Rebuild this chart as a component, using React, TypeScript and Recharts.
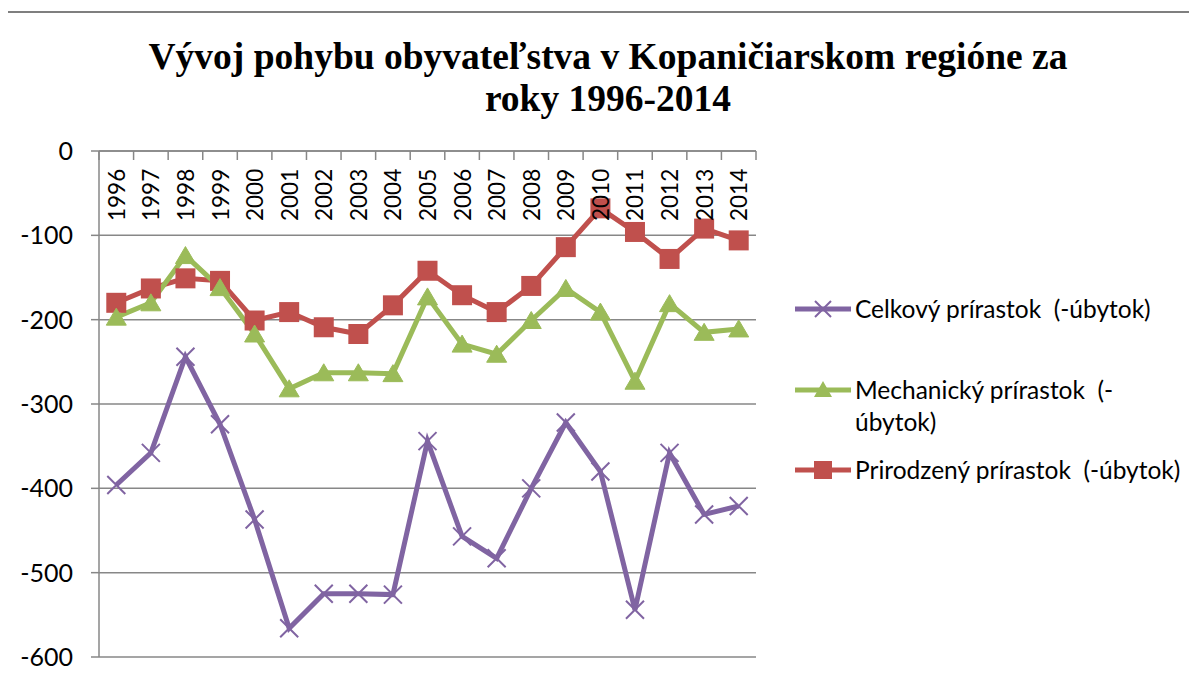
import React from 'react';
import { LineChart, Line, XAxis, YAxis, CartesianGrid, Legend } from 'recharts';

const years = [
  '1996', '1997', '1998', '1999', '2000', '2001', '2002', '2003', '2004', '2005',
  '2006', '2007', '2008', '2009', '2010', '2011', '2012', '2013', '2014',
];
const celkovy = [-396, -358, -244, -324, -437, -566, -525, -525, -526, -344, -457, -483, -400, -322, -380, -544, -358, -431, -421];
const mechanicky = [-197, -180, -124, -162, -217, -282, -263, -263, -264, -173, -229, -241, -201, -163, -191, -273, -181, -215, -211];
const prirodzeny = [-180, -163, -151, -154, -201, -191, -209, -217, -183, -142, -171, -191, -160, -114, -68, -96, -128, -92, -106];
const yTicks = [0, -100, -200, -300, -400, -500, -600];

const nameCelkovy = 'Celkový prírastok  (-úbytok)';
const nameMechanicky = 'Mechanický prírastok  (-úbytok)';
const namePrirodzeny = 'Prirodzený prírastok  (-úbytok)';

const data = years.map((year, i) => ({
  year,
  celkovy: celkovy[i],
  mechanicky: mechanicky[i],
  prirodzeny: prirodzeny[i],
}));

const PURPLE = '#8064A2';
const GREEN = '#9BBB59';
const RED = '#C0504D';
const GRID = '#878787';
const FONT = 'Lato, "Open Sans", sans-serif';

const W = 1197;
const H = 679;
const PLOT_LEFT = 99;
const PLOT_RIGHT = 756;
const PLOT_TOP = 151;
const PLOT_BOTTOM = 657;
const BAND = (PLOT_RIGHT - PLOT_LEFT) / years.length;

const crossPath = (cx: number, cy: number, r: number) =>
  `M${cx - r},${cy - r}L${cx + r},${cy + r}M${cx - r},${cy + r}L${cx + r},${cy - r}`;

const CrossDot = (props: any) => {
  const { cx, cy } = props;
  if (cx == null || cy == null) return null;
  return <path d={crossPath(cx, cy, 9)} stroke={PURPLE} strokeWidth={2} fill="none" />;
};

const TriangleDot = (props: any) => {
  const { cx, cy } = props;
  if (cx == null || cy == null) return null;
  return <polygon points={`${cx},${cy - 9} ${cx + 10},${cy + 8} ${cx - 10},${cy + 8}`} fill={GREEN} stroke={GREEN} strokeWidth={1} />;
};

const SquareDot = (props: any) => {
  const { cx, cy } = props;
  if (cx == null || cy == null) return null;
  return <rect x={cx - 10} y={cy - 10} width={20} height={20} fill={RED} />;
};

const YearTick = (props: any) => {
  const { x, payload, index } = props;
  const y = PLOT_TOP;
  return (
    <g>
      <line x1={x - BAND / 2} y1={y} x2={x - BAND / 2} y2={y + 9} stroke={GRID} strokeWidth={1.5} />
      {index === years.length - 1 && (
        <line x1={x + BAND / 2} y1={y} x2={x + BAND / 2} y2={y + 9} stroke={GRID} strokeWidth={1.5} />
      )}
      <text
        transform={`translate(${x},${y + 70}) rotate(-90)`}
        textAnchor="start"
        dominantBaseline="central"
        fontFamily={FONT}
        fontSize={22.5}
        fill="#000"
      >
        {payload.value}
      </text>
    </g>
  );
};

const legendItems = [
  { color: PURPLE, marker: 'cross', lines: ['Celkový prírastok  (-úbytok)'], top: 293 },
  { color: GREEN, marker: 'triangle', lines: ['Mechanický prírastok  (-', 'úbytok)'], top: 374 },
  { color: RED, marker: 'square', lines: ['Prirodzený prírastok  (-úbytok)'], top: 454 },
];

const LegendIcon = ({ color, marker }: { color: string; marker: string }) => (
  <svg width={56} height={24} style={{ position: 'absolute', left: 0, top: 4 }}>
    <line x1={0} y1={12} x2={56} y2={12} stroke={color} strokeWidth={5} strokeLinecap="round" />
    {marker === 'cross' && <path d={crossPath(28, 12, 8)} stroke={color} strokeWidth={2} />}
    {marker === 'triangle' && <polygon points="28,3 37,19 19,19" fill={color} />}
    {marker === 'square' && <rect x={19} y={3} width={18} height={18} fill={color} />}
  </svg>
);

const renderLegend = () => (
  <div style={{ position: 'relative', width: 400, height: 220, fontFamily: FONT, fontSize: 24.5, color: '#000', textAlign: 'left' }}>
    {legendItems.map((item) => (
      <div key={item.color} style={{ position: 'absolute', left: 0, top: item.top - 290 }}>
        <LegendIcon color={item.color} marker={item.marker} />
        <div style={{ marginLeft: 60, lineHeight: '32px', whiteSpace: 'pre' }}>
          {item.lines.map((l) => (
            <div key={l}>{l}</div>
          ))}
        </div>
      </div>
    ))}
  </div>
);

export default function App() {
  return (
    <div style={{ position: 'relative', width: W, height: H, margin: -8, overflow: 'hidden', background: '#fff' }}>
      <div
        style={{
          position: 'absolute',
          left: 0,
          top: 36,
          width: 1216,
          textAlign: 'center',
          fontFamily: '"Liberation Serif", "Times New Roman", serif',
          fontWeight: 'bold',
          fontSize: 37.5,
          lineHeight: '42px',
          color: '#000',
        }}
      >
        Vývoj pohybu obyvateľstva v Kopaničiarskom regióne za
        <br />
        roky 1996-2014
      </div>
      <div style={{ position: 'absolute', left: 0, top: 0 }}>
        <LineChart
          width={W}
          height={H}
          data={data}
          margin={{ top: PLOT_TOP - 1, right: W - PLOT_RIGHT, bottom: H - PLOT_BOTTOM, left: 0 }}
        >
          <CartesianGrid vertical={false} stroke={GRID} strokeWidth={1.5} />
          <XAxis
            dataKey="year"
            orientation="top"
            height={1}
            padding={{ left: BAND / 2, right: BAND / 2 }}
            tickLine={false}
            tickSize={0}
            tickMargin={0}
            interval={0}
            axisLine={{ stroke: GRID, strokeWidth: 1.5 }}
            tick={<YearTick />}
          />
          <YAxis
            width={PLOT_LEFT}
            domain={[-600, 0]}
            ticks={yTicks}
            interval={0}
            tickSize={8}
            tickMargin={18}
            axisLine={{ stroke: GRID, strokeWidth: 1.5 }}
            tickLine={{ stroke: GRID, strokeWidth: 1.5 }}
            tick={{ fill: '#000', fontSize: 25, fontFamily: FONT }}
          />
          <Legend
            layout="vertical"
            verticalAlign="middle"
            align="center"
            wrapperStyle={{ left: 795, top: 290, width: 400 }}
            content={renderLegend}
          />
          <Line
            name={nameCelkovy}
            dataKey="celkovy"
            stroke={PURPLE}
            strokeWidth={5}
            dot={<CrossDot />}
            isAnimationActive={false}
          />
          <Line
            name={namePrirodzeny}
            dataKey="prirodzeny"
            stroke={RED}
            strokeWidth={5}
            dot={<SquareDot />}
            isAnimationActive={false}
          />
          <Line
            name={nameMechanicky}
            dataKey="mechanicky"
            stroke={GREEN}
            strokeWidth={5}
            dot={<TriangleDot />}
            isAnimationActive={false}
          />
        </LineChart>
      </div>
      <div style={{ position: 'absolute', left: 3, top: 11, width: W, height: 2, background: '#7f7f7f' }} />
      <div style={{ position: 'absolute', left: 3, top: 11, width: 2, height: H, background: '#7f7f7f' }} />
    </div>
  );
}
